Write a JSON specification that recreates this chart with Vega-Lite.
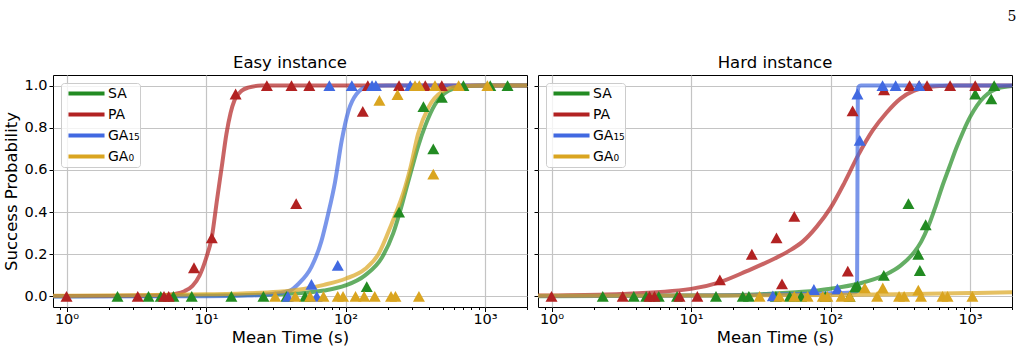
{
  "$schema": "https://vega.github.io/schema/vega-lite/v6.json",
  "padding": {"left": 3, "top": 10, "right": 10, "bottom": 4},
  "bounds": "flush",
  "background": "white",
  "title": {"text": "5", "anchor": "end", "font": "DejaVu Serif", "fontSize": 14, "fontWeight": "normal", "color": "black", "offset": 30, "dx": -4},
  "config": {
    "view": {"stroke": "black", "strokeWidth": 1},
    "font": "DejaVu Sans",
    "axis": {"labelFont": "DejaVu Sans", "labelFontSize": 14.5, "labelColor": "black", "titleFont": "DejaVu Sans", "titleFontSize": 16.5, "titleFontWeight": "normal", "titleColor": "black", "tickColor": "black", "domain": false, "gridColor": "#c4c4c4", "gridWidth": 1.2},
    "title": {"font": "DejaVu Sans", "fontSize": 16.5, "fontWeight": "normal", "color": "black"},
    "legend": {"title": null, "orient": "top-left", "offset": 8, "padding": 0, "fillColor": "rgba(255,255,255,0.8)", "strokeColor": "#cccccc", "cornerRadius": 3, "symbolType": "stroke", "symbolSize": 1300, "symbolStrokeWidth": 4, "symbolOpacity": 1, "symbolOffset": 5, "labelFontSize": 14, "labelFont": "DejaVu Sans", "labelColor": "black", "labelOffset": 1, "clipHeight": 21, "rowPadding": 0}
  },
  "datasets": {
    "curves": [
      {"panel":"Easy","method":"SA","t":0.8,"p":0.001},{"panel":"Easy","method":"SA","t":1,"p":0.001},{"panel":"Easy","method":"SA","t":10,"p":0.004},{"panel":"Easy","method":"SA","t":20,"p":0.007},{"panel":"Easy","method":"SA","t":33,"p":0.01},{"panel":"Easy","method":"SA","t":50,"p":0.017},{"panel":"Easy","method":"SA","t":70,"p":0.028},{"panel":"Easy","method":"SA","t":100,"p":0.052},{"panel":"Easy","method":"SA","t":138,"p":0.1},{"panel":"Easy","method":"SA","t":183,"p":0.186},{"panel":"Easy","method":"SA","t":220,"p":0.3},{"panel":"Easy","method":"SA","t":255,"p":0.44},{"panel":"Easy","method":"SA","t":275,"p":0.52},{"panel":"Easy","method":"SA","t":300,"p":0.61},{"panel":"Easy","method":"SA","t":331,"p":0.71},{"panel":"Easy","method":"SA","t":373,"p":0.81},{"panel":"Easy","method":"SA","t":438,"p":0.91},{"panel":"Easy","method":"SA","t":547,"p":0.975},{"panel":"Easy","method":"SA","t":720,"p":0.997},{"panel":"Easy","method":"SA","t":1000,"p":1},{"panel":"Easy","method":"SA","t":2000,"p":1},
      {"panel":"Easy","method":"PA","t":0.8,"p":0.002},{"panel":"Easy","method":"PA","t":1,"p":0.002},{"panel":"Easy","method":"PA","t":3,"p":0.003},{"panel":"Easy","method":"PA","t":5,"p":0.006},{"panel":"Easy","method":"PA","t":6,"p":0.012},{"panel":"Easy","method":"PA","t":7,"p":0.025},{"panel":"Easy","method":"PA","t":8,"p":0.05},{"panel":"Easy","method":"PA","t":9,"p":0.1},{"panel":"Easy","method":"PA","t":10,"p":0.18},{"panel":"Easy","method":"PA","t":11,"p":0.28},{"panel":"Easy","method":"PA","t":12,"p":0.46},{"panel":"Easy","method":"PA","t":13,"p":0.62},{"panel":"Easy","method":"PA","t":14,"p":0.77},{"panel":"Easy","method":"PA","t":15,"p":0.87},{"panel":"Easy","method":"PA","t":16,"p":0.93},{"panel":"Easy","method":"PA","t":18,"p":0.975},{"panel":"Easy","method":"PA","t":20,"p":0.99},{"panel":"Easy","method":"PA","t":25,"p":1},{"panel":"Easy","method":"PA","t":2000,"p":1},
      {"panel":"Easy","method":"GA₁₅","t":0.8,"p":0},{"panel":"Easy","method":"GA₁₅","t":1,"p":0},{"panel":"Easy","method":"GA₁₅","t":10,"p":0.001},{"panel":"Easy","method":"GA₁₅","t":20,"p":0.004},{"panel":"Easy","method":"GA₁₅","t":30,"p":0.012},{"panel":"Easy","method":"GA₁₅","t":40,"p":0.028},{"panel":"Easy","method":"GA₁₅","t":46,"p":0.06},{"panel":"Easy","method":"GA₁₅","t":57,"p":0.14},{"panel":"Easy","method":"GA₁₅","t":67,"p":0.26},{"panel":"Easy","method":"GA₁₅","t":75,"p":0.39},{"panel":"Easy","method":"GA₁₅","t":84,"p":0.54},{"panel":"Easy","method":"GA₁₅","t":94,"p":0.74},{"panel":"Easy","method":"GA₁₅","t":105,"p":0.88},{"panel":"Easy","method":"GA₁₅","t":120,"p":0.96},{"panel":"Easy","method":"GA₁₅","t":145,"p":0.995},{"panel":"Easy","method":"GA₁₅","t":200,"p":1},{"panel":"Easy","method":"GA₁₅","t":2000,"p":1},
      {"panel":"Easy","method":"GA₀","t":0.8,"p":0.003},{"panel":"Easy","method":"GA₀","t":1,"p":0.003},{"panel":"Easy","method":"GA₀","t":10,"p":0.01},{"panel":"Easy","method":"GA₀","t":33,"p":0.022},{"panel":"Easy","method":"GA₀","t":50,"p":0.035},{"panel":"Easy","method":"GA₀","t":70,"p":0.055},{"panel":"Easy","method":"GA₀","t":100,"p":0.084},{"panel":"Easy","method":"GA₀","t":138,"p":0.13},{"panel":"Easy","method":"GA₀","t":172,"p":0.2},{"panel":"Easy","method":"GA₀","t":214,"p":0.344},{"panel":"Easy","method":"GA₀","t":268,"p":0.52},{"panel":"Easy","method":"GA₀","t":292,"p":0.61},{"panel":"Easy","method":"GA₀","t":331,"p":0.77},{"panel":"Easy","method":"GA₀","t":396,"p":0.9},{"panel":"Easy","method":"GA₀","t":490,"p":0.97},{"panel":"Easy","method":"GA₀","t":647,"p":0.995},{"panel":"Easy","method":"GA₀","t":1000,"p":1},{"panel":"Easy","method":"GA₀","t":2000,"p":1},
      {"panel":"Hard","method":"SA","t":0.8,"p":0.001},{"panel":"Hard","method":"SA","t":1,"p":0.001},{"panel":"Hard","method":"SA","t":10,"p":0.004},{"panel":"Hard","method":"SA","t":31.6,"p":0.011},{"panel":"Hard","method":"SA","t":63,"p":0.022},{"panel":"Hard","method":"SA","t":100,"p":0.037},{"panel":"Hard","method":"SA","t":158,"p":0.06},{"panel":"Hard","method":"SA","t":251,"p":0.105},{"panel":"Hard","method":"SA","t":316,"p":0.145},{"panel":"Hard","method":"SA","t":398,"p":0.21},{"panel":"Hard","method":"SA","t":447,"p":0.26},{"panel":"Hard","method":"SA","t":501,"p":0.33},{"panel":"Hard","method":"SA","t":562,"p":0.42},{"panel":"Hard","method":"SA","t":631,"p":0.52},{"panel":"Hard","method":"SA","t":708,"p":0.61},{"panel":"Hard","method":"SA","t":794,"p":0.7},{"panel":"Hard","method":"SA","t":891,"p":0.78},{"panel":"Hard","method":"SA","t":1000,"p":0.85},{"panel":"Hard","method":"SA","t":1122,"p":0.905},{"panel":"Hard","method":"SA","t":1259,"p":0.945},{"panel":"Hard","method":"SA","t":1413,"p":0.972},{"panel":"Hard","method":"SA","t":1585,"p":0.987},{"panel":"Hard","method":"SA","t":2000,"p":0.998},
      {"panel":"Hard","method":"PA","t":0.8,"p":0.004},{"panel":"Hard","method":"PA","t":1,"p":0.005},{"panel":"Hard","method":"PA","t":3.16,"p":0.012},{"panel":"Hard","method":"PA","t":10,"p":0.036},{"panel":"Hard","method":"PA","t":15.8,"p":0.066},{"panel":"Hard","method":"PA","t":25.1,"p":0.12},{"panel":"Hard","method":"PA","t":39.8,"p":0.18},{"panel":"Hard","method":"PA","t":50.1,"p":0.215},{"panel":"Hard","method":"PA","t":63.1,"p":0.26},{"panel":"Hard","method":"PA","t":79.4,"p":0.33},{"panel":"Hard","method":"PA","t":100,"p":0.42},{"panel":"Hard","method":"PA","t":126,"p":0.54},{"panel":"Hard","method":"PA","t":158,"p":0.67},{"panel":"Hard","method":"PA","t":200,"p":0.786},{"panel":"Hard","method":"PA","t":251,"p":0.87},{"panel":"Hard","method":"PA","t":316,"p":0.937},{"panel":"Hard","method":"PA","t":398,"p":0.976},{"panel":"Hard","method":"PA","t":501,"p":0.993},{"panel":"Hard","method":"PA","t":631,"p":0.998},{"panel":"Hard","method":"PA","t":800,"p":1},{"panel":"Hard","method":"PA","t":2000,"p":1},
      {"panel":"Hard","method":"GA₁₅","t":0.8,"p":0.002},{"panel":"Hard","method":"GA₁₅","t":1,"p":0.002},{"panel":"Hard","method":"GA₁₅","t":10,"p":0.005},{"panel":"Hard","method":"GA₁₅","t":50,"p":0.01},{"panel":"Hard","method":"GA₁₅","t":100,"p":0.015},{"panel":"Hard","method":"GA₁₅","t":150,"p":0.02},{"panel":"Hard","method":"GA₁₅","t":155,"p":0.025},{"panel":"Hard","method":"GA₁₅","t":156,"p":0.5},{"panel":"Hard","method":"GA₁₅","t":157,"p":0.97},{"panel":"Hard","method":"GA₁₅","t":158.5,"p":0.993},{"panel":"Hard","method":"GA₁₅","t":165,"p":1},{"panel":"Hard","method":"GA₁₅","t":2000,"p":1},
      {"panel":"Hard","method":"GA₀","t":0.8,"p":0.003},{"panel":"Hard","method":"GA₀","t":10,"p":0.004},{"panel":"Hard","method":"GA₀","t":100,"p":0.007},{"panel":"Hard","method":"GA₀","t":300,"p":0.011},{"panel":"Hard","method":"GA₀","t":1000,"p":0.016},{"panel":"Hard","method":"GA₀","t":2000,"p":0.02}
    ],
    "points": [
      {"panel":"Easy","method":"SA","t":2.32,"p":0},{"panel":"Easy","method":"SA","t":3.87,"p":0},{"panel":"Easy","method":"SA","t":4.74,"p":0},{"panel":"Easy","method":"SA","t":5.84,"p":0},{"panel":"Easy","method":"SA","t":7.9,"p":0},{"panel":"Easy","method":"SA","t":15.2,"p":0},{"panel":"Easy","method":"SA","t":25.8,"p":0},{"panel":"Easy","method":"SA","t":37.7,"p":0},{"panel":"Easy","method":"SA","t":51.3,"p":0},{"panel":"Easy","method":"SA","t":142,"p":0.047},{"panel":"Easy","method":"SA","t":242,"p":0.4},{"panel":"Easy","method":"SA","t":362,"p":0.9},{"panel":"Easy","method":"SA","t":426,"p":0.7},{"panel":"Easy","method":"SA","t":490,"p":0.944},{"panel":"Easy","method":"SA","t":700,"p":1},{"panel":"Easy","method":"SA","t":1090,"p":1},{"panel":"Easy","method":"SA","t":1450,"p":1},
      {"panel":"Easy","method":"PA","t":1,"p":0},{"panel":"Easy","method":"PA","t":3.24,"p":0},{"panel":"Easy","method":"PA","t":5,"p":0},{"panel":"Easy","method":"PA","t":5.4,"p":0},{"panel":"Easy","method":"PA","t":8.2,"p":0.136},{"panel":"Easy","method":"PA","t":11,"p":0.278},{"panel":"Easy","method":"PA","t":16.3,"p":0.96},{"panel":"Easy","method":"PA","t":27.3,"p":1},{"panel":"Easy","method":"PA","t":41,"p":1},{"panel":"Easy","method":"PA","t":44.3,"p":0.44},{"panel":"Easy","method":"PA","t":55,"p":1},{"panel":"Easy","method":"PA","t":133,"p":0.878},{"panel":"Easy","method":"PA","t":144.5,"p":1},{"panel":"Easy","method":"PA","t":242,"p":1},{"panel":"Easy","method":"PA","t":373,"p":1},{"panel":"Easy","method":"PA","t":490,"p":1},
      {"panel":"Easy","method":"GA₁₅","t":38.6,"p":0},{"panel":"Easy","method":"GA₁₅","t":62.2,"p":0},{"panel":"Easy","method":"GA₁₅","t":57,"p":0.057},{"panel":"Easy","method":"GA₁₅","t":88,"p":0.147},{"panel":"Easy","method":"GA₁₅","t":76.6,"p":1},{"panel":"Easy","method":"GA₁₅","t":111,"p":1},{"panel":"Easy","method":"GA₁₅","t":155,"p":1},{"panel":"Easy","method":"GA₁₅","t":165,"p":1},{"panel":"Easy","method":"GA₁₅","t":291,"p":1},
      {"panel":"Easy","method":"GA₀","t":31.3,"p":0},{"panel":"Easy","method":"GA₀","t":43.6,"p":0},{"panel":"Easy","method":"GA₀","t":55.7,"p":0},{"panel":"Easy","method":"GA₀","t":69.5,"p":0},{"panel":"Easy","method":"GA₀","t":88,"p":0},{"panel":"Easy","method":"GA₀","t":96,"p":0},{"panel":"Easy","method":"GA₀","t":118,"p":0},{"panel":"Easy","method":"GA₀","t":136,"p":0},{"panel":"Easy","method":"GA₀","t":162,"p":0},{"panel":"Easy","method":"GA₀","t":212,"p":0},{"panel":"Easy","method":"GA₀","t":228,"p":0},{"panel":"Easy","method":"GA₀","t":336,"p":0},{"panel":"Easy","method":"GA₀","t":175,"p":0.93},{"panel":"Easy","method":"GA₀","t":236,"p":0.957},{"panel":"Easy","method":"GA₀","t":426,"p":0.58},{"panel":"Easy","method":"GA₀","t":315,"p":1},{"panel":"Easy","method":"GA₀","t":338,"p":1},{"panel":"Easy","method":"GA₀","t":438,"p":1},{"panel":"Easy","method":"GA₀","t":647,"p":1},{"panel":"Easy","method":"GA₀","t":1040,"p":1},
      {"panel":"Hard","method":"SA","t":2.33,"p":0},{"panel":"Hard","method":"SA","t":3.89,"p":0},{"panel":"Hard","method":"SA","t":4.77,"p":0},{"panel":"Hard","method":"SA","t":5.87,"p":0},{"panel":"Hard","method":"SA","t":7.94,"p":0},{"panel":"Hard","method":"SA","t":15.1,"p":0},{"panel":"Hard","method":"SA","t":23.5,"p":0},{"panel":"Hard","method":"SA","t":26,"p":0},{"panel":"Hard","method":"SA","t":40.6,"p":0},{"panel":"Hard","method":"SA","t":51,"p":0},{"panel":"Hard","method":"SA","t":61.6,"p":0},{"panel":"Hard","method":"SA","t":92,"p":0},{"panel":"Hard","method":"SA","t":137,"p":0},{"panel":"Hard","method":"SA","t":150,"p":0.044},{"panel":"Hard","method":"SA","t":156,"p":0.05},{"panel":"Hard","method":"SA","t":241,"p":0.1},{"panel":"Hard","method":"SA","t":362,"p":0.44},{"panel":"Hard","method":"SA","t":481,"p":0.34},{"panel":"Hard","method":"SA","t":426,"p":0.2},{"panel":"Hard","method":"SA","t":437,"p":0.123},{"panel":"Hard","method":"SA","t":1090,"p":0.96},{"panel":"Hard","method":"SA","t":1420,"p":0.937},{"panel":"Hard","method":"SA","t":1490,"p":1},
      {"panel":"Hard","method":"PA","t":1,"p":0},{"panel":"Hard","method":"PA","t":3.24,"p":0},{"panel":"Hard","method":"PA","t":5.04,"p":0},{"panel":"Hard","method":"PA","t":5.47,"p":0},{"panel":"Hard","method":"PA","t":8.27,"p":0},{"panel":"Hard","method":"PA","t":11.1,"p":0},{"panel":"Hard","method":"PA","t":16.1,"p":0.079},{"panel":"Hard","method":"PA","t":27.3,"p":0.2},{"panel":"Hard","method":"PA","t":41,"p":0.278},{"panel":"Hard","method":"PA","t":44.9,"p":0.06},{"panel":"Hard","method":"PA","t":55,"p":0.38},{"panel":"Hard","method":"PA","t":133,"p":0.12},{"panel":"Hard","method":"PA","t":144,"p":0.88},{"panel":"Hard","method":"PA","t":242,"p":0.98},{"panel":"Hard","method":"PA","t":369,"p":1},{"panel":"Hard","method":"PA","t":432,"p":1},{"panel":"Hard","method":"PA","t":492,"p":1},{"panel":"Hard","method":"PA","t":720,"p":1},{"panel":"Hard","method":"PA","t":1090,"p":1},
      {"panel":"Hard","method":"GA₁₅","t":38.6,"p":0.003},{"panel":"Hard","method":"GA₁₅","t":76,"p":0.033},{"panel":"Hard","method":"GA₁₅","t":112,"p":0.036},{"panel":"Hard","method":"GA₁₅","t":156,"p":0.96},{"panel":"Hard","method":"GA₁₅","t":162,"p":0.74},{"panel":"Hard","method":"GA₁₅","t":236,"p":1},{"panel":"Hard","method":"GA₁₅","t":293,"p":1},{"panel":"Hard","method":"GA₁₅","t":432,"p":1},
      {"panel":"Hard","method":"GA₀","t":31,"p":0},{"panel":"Hard","method":"GA₀","t":43,"p":0},{"panel":"Hard","method":"GA₀","t":55,"p":0},{"panel":"Hard","method":"GA₀","t":68.5,"p":0},{"panel":"Hard","method":"GA₀","t":88,"p":0},{"panel":"Hard","method":"GA₀","t":95,"p":0},{"panel":"Hard","method":"GA₀","t":120,"p":0},{"panel":"Hard","method":"GA₀","t":137,"p":0},{"panel":"Hard","method":"GA₀","t":176,"p":0.041},{"panel":"Hard","method":"GA₀","t":216,"p":0},{"panel":"Hard","method":"GA₀","t":237,"p":0.04},{"panel":"Hard","method":"GA₀","t":310,"p":0},{"panel":"Hard","method":"GA₀","t":337,"p":0},{"panel":"Hard","method":"GA₀","t":426,"p":0.03},{"panel":"Hard","method":"GA₀","t":445,"p":0},{"panel":"Hard","method":"GA₀","t":635,"p":0},{"panel":"Hard","method":"GA₀","t":690,"p":0},{"panel":"Hard","method":"GA₀","t":1040,"p":0}
    ]
  },
  "hconcat": [
    {
      "width": 474, "height": 232,
      "title": {"text": "Easy instance", "offset": 4},
      "layer": [
        {
          "data": {"name": "curves"},
          "transform": [{"filter": "datum.panel === 'Easy'"}],
          "mark": {"type": "line", "strokeWidth": 4, "opacity": 0.7, "interpolate": "monotone", "strokeCap": "butt"},
          "encoding": {
            "x": {"field": "t", "type": "quantitative", "scale": {"type": "log", "domain": [0.8, 2000], "nice": false},
              "axis": {"title": "Mean Time (s)", "values": [0.9,1,2,3,4,5,6,7,8,9,10,20,30,40,50,60,70,80,90,100,200,300,400,500,600,700,800,900,1000,2000],
                "labelExpr": "datum.value == 1 ? '10⁰' : datum.value == 10 ? '10¹' : datum.value == 100 ? '10²' : datum.value == 1000 ? '10³' : ''",
                "tickSize": {"condition": {"test": "indexof([1,10,100,1000], datum.value) >= 0", "value": 4.5}, "value": 2.5},
                "gridOpacity": {"condition": {"test": "indexof([1,10,100,1000], datum.value) >= 0", "value": 1}, "value": 0},
                "labelPadding": 1, "titlePadding": 3, "labelFlush": false, "labelOverlap": false}},
            "y": {"field": "p", "type": "quantitative", "scale": {"domain": [-0.05, 1.05], "nice": false, "zero": false},
              "axis": {"title": "Success Probability", "values": [0,0.2,0.4,0.6,0.8,1], "format": ".1f", "tickSize": 4, "labelPadding": 2, "titlePadding": 4}},
            "color": {"field": "method", "type": "nominal",
              "scale": {"domain": ["SA","PA","GA₁₅","GA₀"], "range": ["#228b22","#b22222","#4169e1","#daa520"]},
              "legend": {"title": null}}
          }
        },
        {
          "data": {"name": "points"},
          "transform": [{"filter": "datum.panel === 'Easy'"}],
          "mark": {"type": "point", "shape": "M0,-0.9L-1,0.9L1,0.9Z", "filled": true, "size": 144, "opacity": 1, "strokeWidth": 0},
          "encoding": {
            "x": {"field": "t", "type": "quantitative"},
            "y": {"field": "p", "type": "quantitative"},
            "color": {"field": "method", "type": "nominal", "legend": null}
          }
        }
      ]
    },
    {
      "width": 474, "height": 232,
      "title": {"text": "Hard instance", "offset": 4},
      "layer": [
        {
          "data": {"name": "curves"},
          "transform": [{"filter": "datum.panel === 'Hard'"}],
          "mark": {"type": "line", "strokeWidth": 4, "opacity": 0.7, "interpolate": "monotone", "strokeCap": "butt"},
          "encoding": {
            "x": {"field": "t", "type": "quantitative", "scale": {"type": "log", "domain": [0.8, 2000], "nice": false},
              "axis": {"title": "Mean Time (s)", "values": [0.9,1,2,3,4,5,6,7,8,9,10,20,30,40,50,60,70,80,90,100,200,300,400,500,600,700,800,900,1000,2000],
                "labelExpr": "datum.value == 1 ? '10⁰' : datum.value == 10 ? '10¹' : datum.value == 100 ? '10²' : datum.value == 1000 ? '10³' : ''",
                "tickSize": {"condition": {"test": "indexof([1,10,100,1000], datum.value) >= 0", "value": 4.5}, "value": 2.5},
                "gridOpacity": {"condition": {"test": "indexof([1,10,100,1000], datum.value) >= 0", "value": 1}, "value": 0},
                "labelPadding": 1, "titlePadding": 3, "labelFlush": false, "labelOverlap": false}},
            "y": {"field": "p", "type": "quantitative", "scale": {"domain": [-0.05, 1.05], "nice": false, "zero": false},
              "axis": {"title": null, "values": [0,0.2,0.4,0.6,0.8,1], "labels": false, "tickSize": 4}},
            "color": {"field": "method", "type": "nominal",
              "scale": {"domain": ["SA","PA","GA₁₅","GA₀"], "range": ["#228b22","#b22222","#4169e1","#daa520"]},
              "legend": {"title": null}}
          }
        },
        {
          "data": {"name": "points"},
          "transform": [{"filter": "datum.panel === 'Hard'"}],
          "mark": {"type": "point", "shape": "M0,-0.9L-1,0.9L1,0.9Z", "filled": true, "size": 144, "opacity": 1, "strokeWidth": 0},
          "encoding": {
            "x": {"field": "t", "type": "quantitative"},
            "y": {"field": "p", "type": "quantitative"},
            "color": {"field": "method", "type": "nominal", "legend": null}
          }
        }
      ]
    }
  ],
  "spacing": 11,
  "resolve": {"legend": {"color": "independent"}, "scale": {"y": "independent", "x": "independent"}}
}
